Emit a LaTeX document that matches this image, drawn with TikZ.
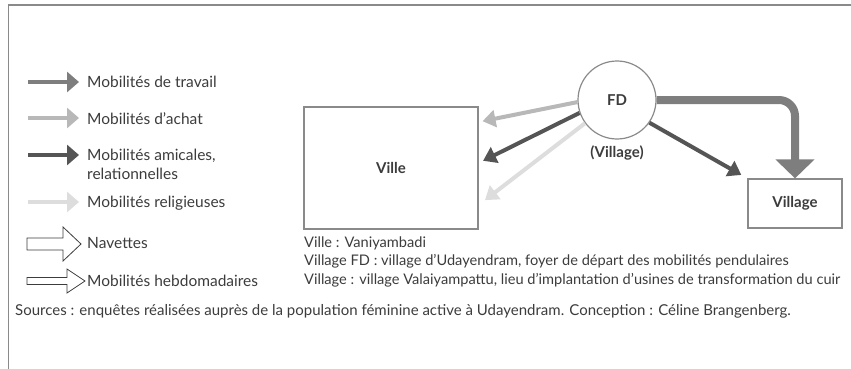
\documentclass[tikz,border=0pt]{standalone}
\usepackage{fontspec}
\setmainfont{Lato}
\usepackage{xcolor}
\usepackage{tikz}
\usetikzlibrary{arrows.meta,positioning,calc}
\definecolor{encre}{HTML}{3C3C3C}
\definecolor{cadre}{HTML}{8A8A8A}
\definecolor{gristravail}{HTML}{7E7E7E}
\definecolor{grisachat}{HTML}{B8B8B8}
\definecolor{grisamical}{HTML}{555555}
\definecolor{grisreligion}{HTML}{DDDDDD}
\tikzset{
  lieu/.style={draw=cadre, line width=1.2pt, fill=white, font=\fontsize{15}{18}\selectfont\bfseries,
               text=encre},
  foyer/.style={draw=cadre, circle, line width=1.2pt, minimum size=78pt,
                font=\fontsize{15}{18}\selectfont\bfseries, text=encre},
  flux/.style={line width=4pt, -{Triangle[length=13pt, width=17pt]}},
  fluxleg/.style={line width=4pt, -{Triangle[length=12pt, width=20pt]}},
  travail/.style={draw=gristravail},
  achat/.style={draw=grisachat},
  amical/.style={draw=grisamical},
  religion/.style={draw=grisreligion},
  creux/.style={draw=encre, line width=0.8pt, fill=white},
  legende/.style={anchor=base west, text=encre, align=left, inner sep=0pt,
                  font=\fontsize{15.5}{18.5}\selectfont},
  note/.style={legende, font=\fontsize{14.6}{18.5}\selectfont},
}
\newcommand{\flechecreuse}[4]{%
  \draw[creux] (#1) -- ++(0,-#2) -- ++(#4,0) -- ++(0,#2-#3) -- ++(18,#3)
    -- ++(-18,#3) -- ++(0,#2-#3) -- ++(-#4,0) -- cycle;
}

\begin{document}
\begin{tikzpicture}[x=1pt, y=-1pt, >=Stealth]
    \useasboundingbox (0,0) rectangle (851,369);
    \draw[cadre, line width=1.4pt] (851,5) -- (8.5,5) -- (8.5,369);

    \coordinate (lt) at (28,82);   \coordinate (ltf) at (79,82);
    \coordinate (la) at (28,118);  \coordinate (laf) at (79,118);
    \coordinate (lm) at (28,155);  \coordinate (lmf) at (79,155);
    \coordinate (lr) at (28,202);  \coordinate (lrf) at (79,202);
    \coordinate (ln) at (27,244);
    \coordinate (lh) at (27,281);
    \draw[fluxleg, travail] (lt) -- (ltf);
    \draw[fluxleg, achat] (la) -- (laf);
    \draw[fluxleg, amical] (lm) -- (lmf);
    \draw[fluxleg, religion] (lr) -- (lrf);
    \flechecreuse{ln}{6}{17}{36}
    \flechecreuse{lh}{3.5}{12}{40}
    \node[legende] (tt) at (87,87) {Mobilités de travail};
    \node[legende] (ta) at (87,124) {Mobilités d’achat};
    \node[legende, anchor=north west] (tm) at (87,149) {Mobilités amicales,\\relationnelles};
    \node[legende] (tr) at (87,207) {Mobilités religieuses};
    \node[legende] (tn) at (87,248) {Navettes};
    \node[legende] (th) at (87,286) {Mobilités hebdomadaires};

    \node[lieu, minimum width=174pt, minimum height=122pt] (Ville) at (391,168) {Ville};
    \node[foyer] (FD) at (617,100) {FD};
    \node[text=encre, font=\fontsize{15}{18}\selectfont\bfseries, below=3pt of FD] (FDnom) {(Village)};
    \node[lieu, minimum width=94pt, minimum height=49pt] (Village) at (795,203.5) {Village};

    \draw[flux, achat, shorten >=4pt] (FD.183) -- ([yshift=46pt]Ville.east);
    \draw[flux, religion, shorten >=8pt] (FD.216) -- ([yshift=-37pt]Ville.east);
    \draw[flux, amical, shorten >=5pt] (FD.199) -- ([yshift=5pt]Ville.east);
    \draw[flux, amical, shorten >=7pt] (FD.325) -- (Village.north west);
    \draw[gristravail, line width=8pt, rounded corners=16pt,
          -{Triangle[length=19pt, width=38pt]}] (FD.east) -| (Village.north);

    \node[note, anchor=north west] (notes) at (304,236.5)
      {Ville : Vaniyambadi\\
       Village FD : village d’Udayendram, foyer de départ des mobilités pendulaires\\
       Village : village Valaiyampattu, lieu d’implantation d’usines de transformation du cuir};
    \node[legende, font=\fontsize{15}{18}\selectfont] (sources) at (15,315)
      {Sources : enquêtes réalisées auprès de la population féminine active à Udayendram. Conception : Céline Brangenberg.};
\end{tikzpicture}
\end{document}
